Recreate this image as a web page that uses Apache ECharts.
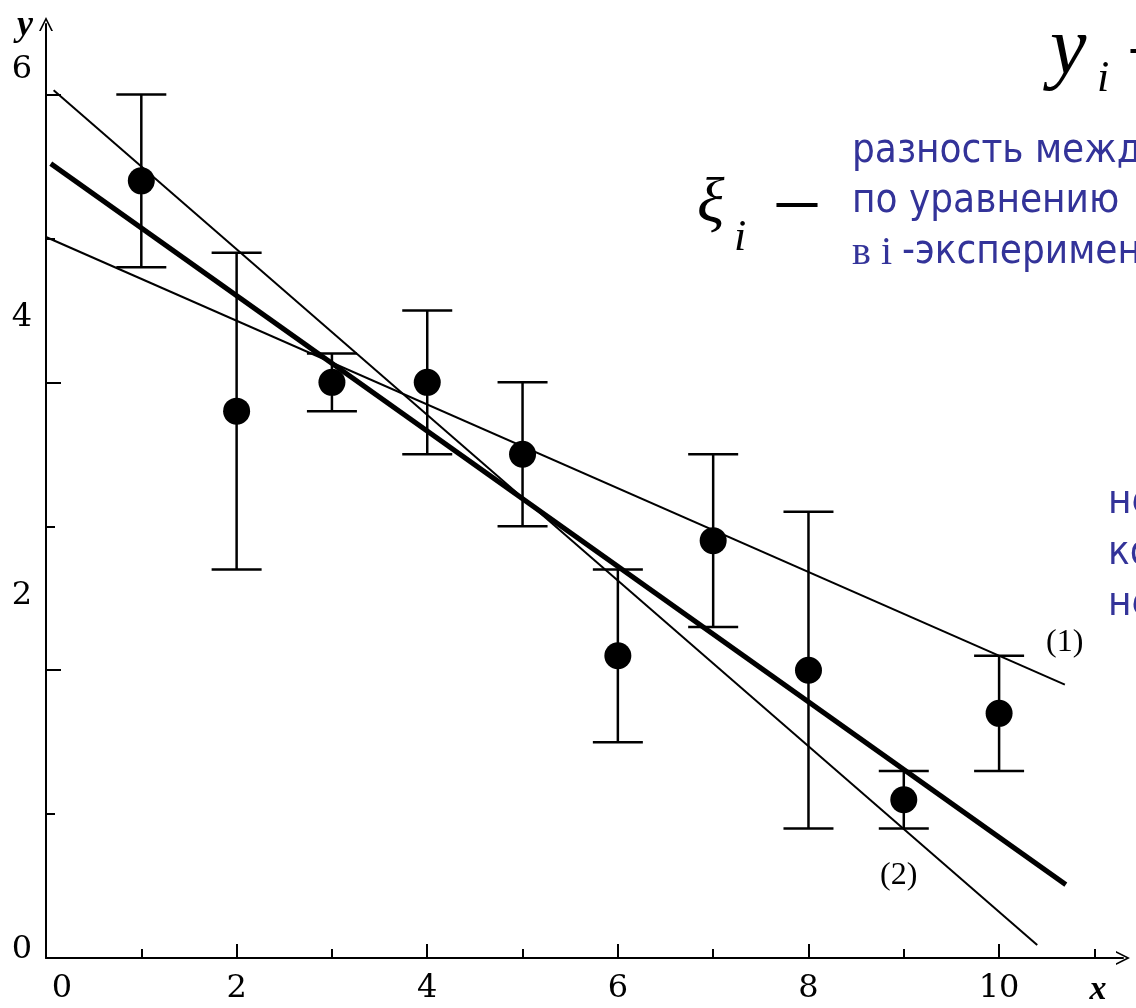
<!DOCTYPE html>
<html><head><meta charset="utf-8">
<script src="https://cdn.jsdelivr.net/npm/echarts@6/dist/echarts.min.js"></script>
<style>html,body{margin:0;padding:0;background:#fff}#c{width:1136px;height:1008px}</style>
</head><body><div id="c"></div>
<script>
// ---- data ----
const xValues = [1, 2, 3, 4, 5, 6, 7, 8, 9, 10];
const yValues = [5.4, 3.8, 4.0, 4.0, 3.5, 2.1, 2.9, 2.0, 1.1, 1.7];
const yErrors = [0.6, 1.1, 0.2, 0.5, 0.5, 0.6, 0.6, 1.1, 0.2, 0.4];
const line1 = [[0, 5.01], [10.69, 1.90]];      // (1) shallow
const line2 = [[0.08, 6.03], [10.40, 0.09]];   // (2) steep
const lineFit = [[0.05, 5.52], [10.70, 0.51]]; // bold fit line
const xMajorTicks = [0, 2, 4, 6, 8, 10];
const xMinorTicks = [1, 3, 5, 7, 9, 11];
const yMajorTicks = [0, 2, 4, 6];
const yMinorTicks = [1, 3, 5];
const xTickLabels = [0, 2, 4, 6, 8, 10];
const yTickLabels = [0, 2, 4, 6];

const serif = '"Liberation Serif", "DejaVu Serif", serif';
const digitFont = '"DejaVu Serif", "Liberation Serif", serif';
const sans = '"DejaVu Sans Condensed", "DejaVu Sans", sans-serif';
const blue = '#333399';

const points = xValues.map((x, i) => [x, yValues[i], yErrors[i]]);
const arrow = 'path://M0,14 L7,0 L14,14 L12.2,14 L7,3.6 L1.8,14 Z';
const X_MAX = 11.3, Y_MAX = 6.49;
const lab = {fontFamily: digitFont, fontSize: 32, color: '#000'};

const chart = echarts.init(document.getElementById('c'), null, {renderer: 'canvas'});
chart.setOption({
  animation: false,
  backgroundColor: '#fff',
  grid: {left: 46, top: 24, width: 1077, height: 934, containLabel: false},
  xAxis: [{
    type: 'value', min: 0, max: X_MAX,
    name: 'x', nameLocation: 'end', nameGap: -25,
    nameTextStyle: {fontFamily: serif, fontStyle: 'italic', fontWeight: 'bold', fontSize: 34, color: '#000',
      align: 'center', verticalAlign: 'top', padding: [15, 0, 0, 0]},
    axisLine: {show: true, symbol: ['none', arrow], symbolSize: [14, 16], lineStyle: {color: '#000', width: 2}},
    axisTick: {show: true, inside: true, length: 14, customValues: xMajorTicks, lineStyle: {color: '#000', width: 2}},
    splitLine: {show: false},
    axisLabel: Object.assign({}, lab, {
      margin: 15, customValues: xTickLabels,
      formatter: v => v === 0 ? '{z|0}' : String(v),
      rich: {z: Object.assign({}, lab, {padding: [0, 0, 0, 32]})}
    })
  }, {
    type: 'value', min: 0, max: X_MAX, position: 'bottom',
    axisLine: {show: false}, axisLabel: {show: false}, splitLine: {show: false},
    axisTick: {show: true, inside: true, length: 9, customValues: xMinorTicks, lineStyle: {color: '#000', width: 2}}
  }],
  yAxis: [{
    type: 'value', min: 0, max: Y_MAX,
    name: 'y', nameLocation: 'end', nameGap: -2,
    nameTextStyle: {fontFamily: serif, fontStyle: 'italic', fontWeight: 'bold', fontSize: 36, color: '#000',
      align: 'right', verticalAlign: 'middle', padding: [0, 13, 0, 0]},
    axisLine: {show: true, symbol: ['none', arrow], symbolSize: [14, 16], lineStyle: {color: '#000', width: 2}},
    axisTick: {show: true, inside: true, length: 15, customValues: yMajorTicks, lineStyle: {color: '#000', width: 2}},
    splitLine: {show: false},
    axisLabel: Object.assign({}, lab, {
      margin: 14, customValues: yTickLabels,
      formatter: v => '{y' + v + '|' + v + '}',
      rich: {
        y0: Object.assign({}, lab, {padding: [0, 0, 16, 0]}),
        y2: Object.assign({}, lab, {padding: [0, 0, 148, 0]}),
        y4: Object.assign({}, lab, {padding: [0, 0, 130, 0]}),
        y6: Object.assign({}, lab, {padding: [0, 0, 50, 0]})
      }
    })
  }, {
    type: 'value', min: 0, max: Y_MAX, position: 'left',
    axisLine: {show: false}, axisLabel: {show: false}, splitLine: {show: false},
    axisTick: {show: true, inside: true, length: 9, customValues: yMinorTicks, lineStyle: {color: '#000', width: 2}}
  }],
  series: [
    {type: 'line', data: line1, symbol: 'none', lineStyle: {color: '#000', width: 2}, z: 2},
    {type: 'line', data: line2, symbol: 'none', lineStyle: {color: '#000', width: 2}, z: 2},
    {type: 'line', data: lineFit, symbol: 'none', lineStyle: {color: '#000', width: 5}, z: 2},
    {
      type: 'custom', data: points, z: 3,
      renderItem: (params, api) => {
        const x = api.value(0), y = api.value(1), e = api.value(2);
        const top = api.coord([x, y + e]);
        const bot = api.coord([x, y - e]);
        const hw = 25;
        const st = {stroke: '#000', lineWidth: 2.5};
        return {type: 'group', children: [
          {type: 'line', shape: {x1: top[0], y1: top[1], x2: bot[0], y2: bot[1]}, style: st},
          {type: 'line', shape: {x1: top[0] - hw, y1: top[1], x2: top[0] + hw, y2: top[1]}, style: st},
          {type: 'line', shape: {x1: bot[0] - hw, y1: bot[1], x2: bot[0] + hw, y2: bot[1]}, style: st}
        ]};
      }
    },
    {type: 'scatter', data: points.map(p => [p[0], p[1]]), symbol: 'circle', symbolSize: 27,
      itemStyle: {color: '#000', opacity: 1}, z: 4}
  ],
  graphic: [
    {type: 'text', left: 1046, top: 627, z: 10, style: {text: '(1)', font: '32px ' + serif, fill: '#000'}},
    {type: 'text', left: 880, top: 860, z: 10, style: {text: '(2)', font: '32px ' + serif, fill: '#000'}},
    // formula fragments
    {type: 'text', x: 1050, y: 51, z: 10, style: {text: 'y', font: 'italic 82px ' + serif, fill: '#000', verticalAlign: 'middle'}},
    {type: 'text', x: 1097, y: 79, z: 10, style: {text: 'i', font: 'italic 44px ' + serif, fill: '#000', verticalAlign: 'middle'}},
    {type: 'text', x: 1131, y: 49, z: 10, style: {text: '–', font: '80px ' + serif, fill: '#000', verticalAlign: 'middle'}},
    {type: 'text', x: 697, y: 205, z: 10, style: {text: 'ξ', font: 'italic 64px ' + serif, fill: '#000', verticalAlign: 'middle'}},
    {type: 'text', x: 734, y: 238, z: 10, style: {text: 'i', font: 'italic 44px ' + serif, fill: '#000', verticalAlign: 'middle'}},
    {type: 'text', x: 777, y: 203, z: 10, style: {text: '–', font: '80px ' + serif, fill: '#000', verticalAlign: 'middle'}},
    // blue explanatory text
    {type: 'text', x: 852, y: 152, z: 10, style: {text: 'разность межд', font: '40px ' + sans, fill: blue, verticalAlign: 'middle'}},
    {type: 'text', x: 852, y: 202, z: 10, style: {text: 'по уравнению', font: '40px ' + sans, fill: blue, verticalAlign: 'middle'}},
    {type: 'text', x: 852, y: 253, z: 10, style: {
      text: '{s|в i }{t|-эксперимен}', verticalAlign: 'middle',
      rich: {s: {font: '40px ' + serif, fill: blue}, t: {font: '40px ' + sans, fill: blue}}}},
    {type: 'text', x: 1108, y: 503, z: 10, style: {text: 'не', font: '40px ' + sans, fill: blue, verticalAlign: 'middle'}},
    {type: 'text', x: 1108, y: 554, z: 10, style: {text: 'ко', font: '40px ' + sans, fill: blue, verticalAlign: 'middle'}},
    {type: 'text', x: 1108, y: 605, z: 10, style: {text: 'не', font: '40px ' + sans, fill: blue, verticalAlign: 'middle'}}
  ]
});
</script>
</body></html>
